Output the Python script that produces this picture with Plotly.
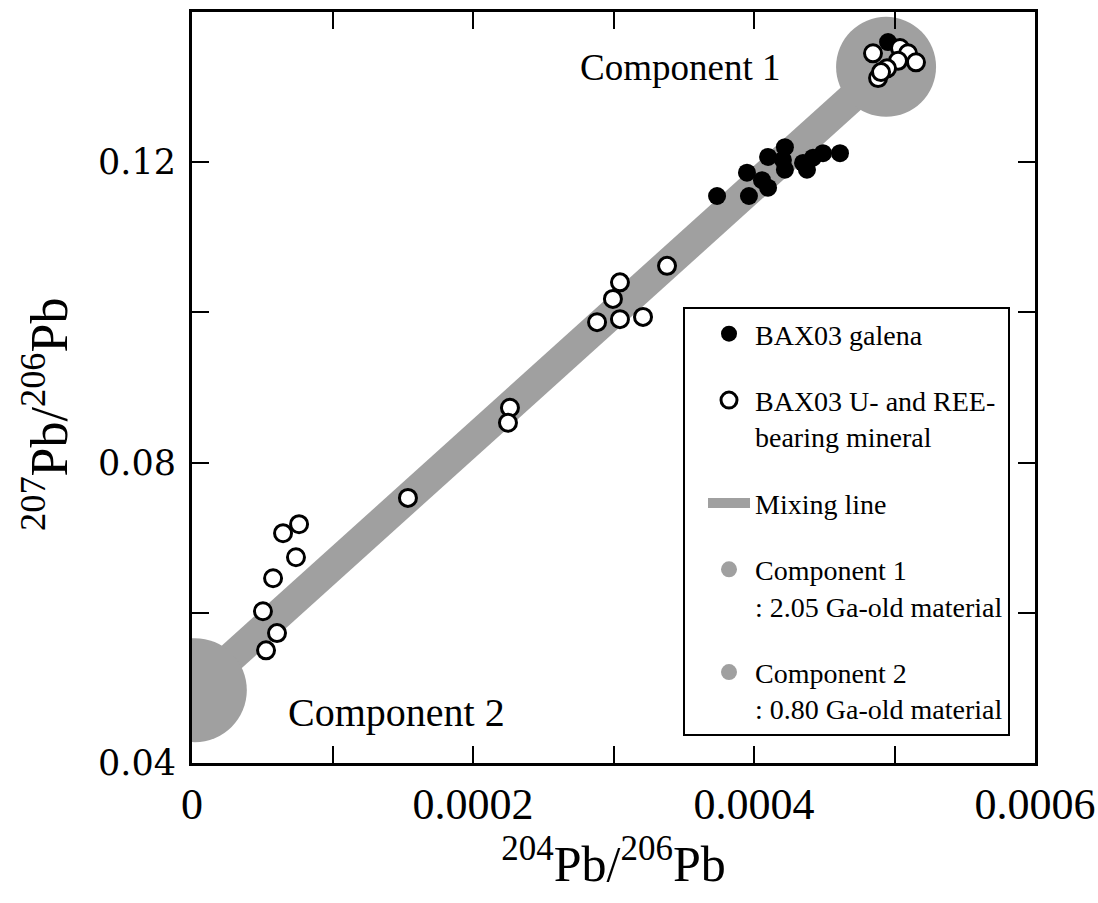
import plotly.graph_objects as go

# ---- data ----
galena_x = [3.737e-4, 3.964e-4, 3.95e-4, 4.057e-4, 4.10e-4, 4.10e-4, 4.22e-4,
            4.22e-4, 4.206e-4, 4.349e-4, 4.42e-4, 4.491e-4, 4.612e-4, 4.377e-4, 4.954e-4]
galena_y = [0.1155, 0.1155, 0.1186, 0.1176, 0.1166, 0.1207, 0.1220,
            0.1190, 0.1203, 0.1199, 0.1206, 0.1212, 0.1212, 0.1190, 0.1360]

mineral_x = [7.62e-5, 6.48e-5, 7.40e-5, 5.77e-5, 5.05e-5, 6.05e-5, 5.27e-5,
             1.537e-4, 2.263e-4, 2.249e-4, 3.381e-4, 3.046e-4, 2.996e-4, 2.883e-4,
             3.046e-4, 3.21e-4,
             4.847e-4, 5.039e-4, 5.096e-4, 5.025e-4, 4.947e-4, 5.153e-4, 4.883e-4, 4.904e-4]
mineral_y = [0.0718, 0.0706, 0.0674, 0.0646, 0.0602, 0.0573, 0.0550,
             0.0753, 0.0873, 0.0853, 0.1062, 0.1040, 0.1018, 0.0987,
             0.0991, 0.0994,
             0.1345, 0.1352, 0.1345, 0.1335, 0.1325, 0.1333, 0.1312, 0.1320]

comp1_x = [4.94e-4]
comp1_y = [0.1327]
comp2_x = [0.000002]
comp2_y = [0.0497]

mix_x = [comp2_x[0], comp1_x[0]]
mix_y = [comp2_y[0], comp1_y[0]]

x_tickvals = [0, 0.0002, 0.0004, 0.0006]
x_ticktext = ["0", "0.0002", "0.0004", "0.0006"]
x_minorvals = [0.0001, 0.0003, 0.0005]
y_tickvals = [0.04, 0.08, 0.12]
y_ticktext = ["0.04", "0.08", "0.12"]
y_minorvals = [0.06, 0.10]

GRAY = "#a0a0a0"
SERIF = "Liberation Serif, Times New Roman, serif"

fig = go.Figure()

fig.add_trace(go.Scatter(
    x=mix_x, y=mix_y, mode="lines", name="Mixing line",
    line=dict(color=GRAY, width=30),
    legendgroup="c", legendrank=3, hoverinfo="skip"))

fig.add_trace(go.Scatter(
    x=comp1_x, y=comp1_y, mode="markers",
    name="Component 1<br>: 2.05 Ga-old material",
    marker=dict(size=100, color=GRAY, line=dict(width=0)),
    legendgroup="d", legendrank=4))

fig.add_trace(go.Scatter(
    x=comp2_x, y=comp2_y, mode="markers",
    name="Component 2<br>: 0.80 Ga-old material",
    marker=dict(size=104, color=GRAY, line=dict(width=0)),
    legendgroup="e", legendrank=5))

fig.add_trace(go.Scatter(
    x=galena_x, y=galena_y, mode="markers", name="BAX03 galena",
    marker=dict(size=18, color="black", line=dict(width=0)),
    legendgroup="a", legendrank=1))

fig.add_trace(go.Scatter(
    x=mineral_x, y=mineral_y, mode="markers",
    name="BAX03 U- and REE-<br>bearing mineral",
    marker=dict(size=17, color="white", line=dict(width=3, color="black")),
    legendgroup="b", legendrank=2))

axis_common = dict(
    showgrid=False, zeroline=False, automargin=False,
    showline=True, linecolor="black", linewidth=3, mirror="allticks",
    ticks="inside", ticklen=17, tickwidth=2, tickcolor="black",
    tickmode="array",
)

fig.update_layout(
    width=1098, height=903,
    paper_bgcolor="white", plot_bgcolor="white",
    margin=dict(l=192, r=63, t=12, b=140, autoexpand=False),
    font=dict(family=SERIF, color="black"),
    showlegend=True,
    legend=dict(
        x=(683 - 192) / 843, y=(763 - 307) / 751,
        xanchor="left", yanchor="top",
        bgcolor="white", bordercolor="black", borderwidth=2,
        font=dict(family=SERIF, size=28, color="black"),
        traceorder="grouped", tracegroupgap=27,
        valign="top", indentation=18, itemwidth=42,
    ),
    xaxis=dict(
        **axis_common,
        range=[0, 0.0006],
        tickvals=x_tickvals, ticktext=x_ticktext,
        minor=dict(tickmode="array", tickvals=x_minorvals, ticks="inside",
                   ticklen=17, tickwidth=2, tickcolor="black", showgrid=False),
        tickfont=dict(family=SERIF, size=44, color="black"),
        ticklabelstandoff=0,
        title=dict(text="<sup>204</sup>Pb/<sup>206</sup>Pb",
                   font=dict(family=SERIF, size=50, color="black"), standoff=0),
    ),
    yaxis=dict(
        **axis_common,
        range=[0.04, 0.14],
        tickvals=y_tickvals, ticktext=y_ticktext,
        minor=dict(tickmode="array", tickvals=y_minorvals, ticks="inside",
                   ticklen=17, tickwidth=2, tickcolor="black", showgrid=False),
        tickfont=dict(family="DejaVu Serif, serif", size=35, color="black"),
        ticklabelstandoff=6,
    ),
    annotations=[
        dict(text="<sup>207</sup>Pb/<sup>206</sup>Pb", textangle=-90,
             xref="paper", yref="paper", x=(45 - 192) / 843, y=(763 - 415) / 751,
             xanchor="center", yanchor="middle", showarrow=False,
             font=dict(family=SERIF, size=52, color="black")),
        dict(text="Component 1", xref="paper", yref="paper",
             x=(680 - 192) / 843, y=(763 - 68) / 751,
             xanchor="center", yanchor="middle", showarrow=False,
             font=dict(family=SERIF, size=37, color="black")),
        dict(text="Component 2", xref="paper", yref="paper",
             x=(396 - 192) / 843, y=(763 - 712) / 751,
             xanchor="center", yanchor="middle", showarrow=False,
             font=dict(family=SERIF, size=40, color="black")),
    ],
)

fig.write_html("out.html")
